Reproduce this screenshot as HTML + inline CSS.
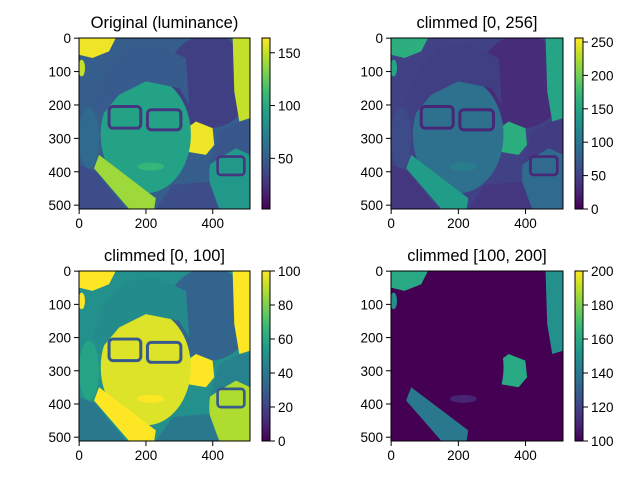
<!DOCTYPE html>
<html><head><meta charset="utf-8"><style>
body{margin:0;background:#fff}
svg text{font-family:"Liberation Sans","DejaVu Sans",sans-serif;fill:#000}
</style></head><body>
<svg id="fig" width="640" height="480" viewBox="0 0 640 480" xmlns="http://www.w3.org/2000/svg"></svg>
<script>
// Panel data
const panelTitles = ["Original (luminance)", "climmed [0, 256]", "climmed [0, 100]", "climmed [100, 200]"];
const climMin = [2, 0, 0, 100];
const climMax = [164, 256, 100, 200];
const cbarTicks = [[50,100,150],[0,50,100,150,200,250],[0,20,40,60,80,100],[100,120,140,160,180,200]];
const imgTicksX = [0,200,400];
const imgTicksY = [0,100,200,300,400,500];
const imgSize = 512;

const boxes = [{x:79,y:38,w:171,h:171,cx:262},{x:391,y:38,w:172,h:171,cx:575},
               {x:79,y:271,w:171,h:170,cx:262},{x:391,y:271,w:172,h:170,cx:575}];
const vir=[[68,1,84],[72,40,120],[62,74,137],[49,104,142],[38,130,142],[31,158,137],[53,183,121],[110,206,88],[181,222,43],[253,231,37]];
function viridis(t){t=Math.max(0,Math.min(1,t));const s=t*(vir.length-1);const i=Math.min(vir.length-2,Math.floor(s));const f=s-i;
 const c=vir[i].map((v,k)=>Math.round(v+(vir[i+1][k]-v)*f));return `rgb(${c[0]},${c[1]},${c[2]})`;}

// scene shapes in image coordinates with luminance
const scene=[
 ["rect",{x:0,y:0,width:512,height:512},50],
 ["ellipse",{cx:390,cy:130,rx:130,ry:140},32],
 ["polygon",{points:"0,0 110,0 90,40 40,60 0,50"},160],
 ["polygon",{points:"460,0 512,0 512,240 480,250 465,160"},150],
 ["polygon",{points:"310,280 350,250 400,270 405,320 380,350 320,340"},160],
 ["ellipse",{cx:8,cy:90,rx:10,ry:25},150],
 ["ellipse",{cx:200,cy:290,rx:135,ry:175},95],
 ["polygon",{points:"40,200 80,90 140,30 230,20 320,60 330,200 300,150 200,130 120,170 70,230"},48],
 ["ellipse",{cx:30,cy:300,rx:30,ry:90},58],
 ["ellipse",{cx:475,cy:410,rx:85,ry:130},88],
 ["polygon",{points:"390,380 420,280 480,250 512,250 512,350 470,330 420,360"},45],
 ["polygon",{points:"0,380 50,400 140,512 0,512"},40],
 ["polygon",{points:"280,440 390,430 420,512 230,512"},40],
 ["polygon",{points:"45,390 60,350 230,480 225,512 150,512"},140],
 ["rect",{x:90,y:205,width:95,height:65,rx:12,fill:"none","stroke-width":9},28],
 ["rect",{x:205,y:215,width:100,height:60,rx:12,fill:"none","stroke-width":9},28],
 ["rect",{x:415,y:355,width:80,height:55,rx:10,fill:"none","stroke-width":8},28],
 ["ellipse",{cx:215,cy:385,rx:40,ry:12},110]
];
const NS="http://www.w3.org/2000/svg";
const svg=document.getElementById('fig');
function el(tag,a,parent){const e=document.createElementNS(NS,tag);for(const k in a)e.setAttribute(k,a[k]);(parent||svg).appendChild(e);return e;}

boxes.forEach((b,p)=>{
 const g=el('g',{});
 
 
 const t=el('text',{x:b.x+b.w/2,y:b.y-10,'text-anchor':'middle','font-size':16.5},g);
 t.textContent=panelTitles[p];
 
 
 const clipId='clip'+p;
 const cp=el('clipPath',{id:clipId},g);el('rect',{x:0,y:0,width:imgSize,height:imgSize},cp);
 const img=el('g',{'clip-path':`url(#${clipId})`,transform:`translate(${b.x},${b.y}) scale(${b.w/imgSize},${b.h/imgSize})`},g);
 
 
 const lo=climMin[p],hi=climMax[p];
 scene.forEach(([tag,a,L])=>{const c=viridis((L-lo)/(hi-lo));const at=Object.assign({},a);
  if(at.fill==="none")at.stroke=c;else at.fill=c; el(tag,at,img);});
 el('rect',{x:b.x,y:b.y,width:b.w,height:b.h,fill:'none',stroke:'#000','stroke-width':1},g);
 const sx=v=>b.x+(v+0.5)*b.w/imgSize, sy=v=>b.y+(v+0.5)*b.h/imgSize;
 imgTicksX.forEach(v=>{const x=sx(v);el('line',{x1:x,x2:x,y1:b.y+b.h,y2:b.y+b.h+5,stroke:'#000'},g);
  const tx=el('text',{x:x,y:b.y+b.h+19,'text-anchor':'middle','font-size':13.5},g);tx.textContent=v;
  });
 imgTicksY.forEach(v=>{const y=sy(v);el('line',{x1:b.x-5,x2:b.x,y1:y,y2:y,stroke:'#000'},g);
  const ty=el('text',{x:b.x-8,y:y+5,'text-anchor':'end','font-size':13.5},g);ty.textContent=v;
  });
 // colorbar
 const cb=el('g',{},g);
 
 
 const gid='grad'+p;const lg=el('linearGradient',{id:gid,x1:0,y1:1,x2:0,y2:0},cb);
 for(let i=0;i<=20;i++)el('stop',{offset:i/20,'stop-color':viridis(i/20)},lg);
 const cw=8;el('rect',{x:b.cx,y:b.y,width:cw,height:b.h,fill:`url(#${gid})`,stroke:'#000','stroke-width':1},cb);
 const cy=v=>b.y+b.h-(v-lo)/(hi-lo)*b.h;
 cbarTicks[p].forEach(v=>{const y=cy(v);el('line',{x1:b.cx+cw,x2:b.cx+cw+5,y1:y,y2:y,stroke:'#000'},cb);
  const tl=el('text',{x:b.cx+cw+8,y:y+5,'font-size':13.5},cb);tl.textContent=v;
  });
});
</script>
</body></html>
